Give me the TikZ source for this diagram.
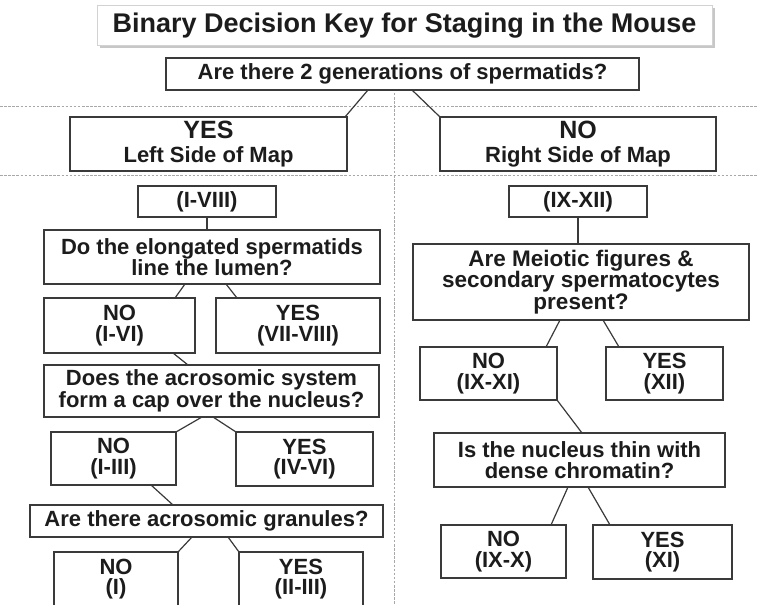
\documentclass[tikz,border=0pt]{standalone}
\usepackage{fontspec}
\setmainfont{Liberation Sans}
\usetikzlibrary{calc,shadows}
\definecolor{linec}{HTML}{3A3A3A}
\definecolor{textc}{HTML}{1C1C1C}
\definecolor{dashc}{HTML}{A8A8A8}
\begin{document}
\begin{tikzpicture}[x=1pt,y=-1pt,
  box/.style={draw=linec, line width=1.3pt, fill=white, inner sep=0pt, outer sep=0pt,
    text=textc, align=center, font=\bfseries\fontsize{22}{20.5}\selectfont},
  titlebox/.style={draw=gray!35, line width=0.8pt, fill=white, inner sep=0pt, outer sep=0pt,
    text=textc, font=\bfseries\fontsize{27}{30}\selectfont,
    drop shadow={shadow xshift=3pt, shadow yshift=-3pt, fill=gray!55, opacity=0.8}},
  conn/.style={draw=linec, line width=1.2pt},
  sep/.style={draw=dashc, line width=1pt, dash pattern=on 2.5pt off 1.6pt}]
\useasboundingbox (0,0) rectangle (759,604);
\clip (0,0) rectangle (759,604);
\fill[white] (0,0) rectangle (759,604);

% separators
\coordinate (h1a) at (0,107);  \coordinate (h1b) at (759,107);
\coordinate (h2a) at (0,175);  \coordinate (h2b) at (759,175);
\coordinate (v1a) at (394,93); \coordinate (v1b) at (394,604);
\draw[sep] (h1a) -- (h1b);
\draw[sep] (h2a) -- (h2b);
\draw[sep] (v1a) -- (v1b);

% title
\node[titlebox, minimum width=615pt, minimum height=40pt] (title) at (404.5,25.5) {Binary Decision Key for Staging in the Mouse};

% top level
\node[box, minimum width=473pt, minimum height=32pt] (q1) at (402.5,74) {Are there 2 generations of spermatids?};
\node[box, minimum width=277pt, minimum height=54pt] (yes1) at (208.5,144) {{\fontsize{25}{22}\selectfont YES}\\[4pt]Left Side of Map};
\node[box, minimum width=276pt, minimum height=54pt] (no1) at (578,144) {{\fontsize{25}{22}\selectfont NO}\\[4pt]Right Side of Map};

% left side
\node[box, minimum width=138pt, minimum height=31pt] (L0) at (207,201.5) {(I-VIII)};
\node[box, minimum width=336pt, minimum height=54pt] (q2) at (212,257) {Do the elongated spermatids\\line the lumen?};
\node[box, minimum width=151pt, minimum height=55pt] (no2) at (119.5,325.5) {NO\\(I-VI)};
\node[box, minimum width=164pt, minimum height=55pt] (yes2) at (298,325.5) {YES\\(VII-VIII)};
\node[box, minimum width=335pt, minimum height=52pt] (q3) at (211.5,391) {Does the acrosomic system\\form a cap over the nucleus?};
\node[box, minimum width=125pt, minimum height=53pt] (no3) at (113.5,458.5) {NO\\(I-III)};
\node[box, minimum width=137pt, minimum height=54pt] (yes3) at (304.5,459) {YES\\(IV-VI)};
\node[box, minimum width=353pt, minimum height=32pt] (q4) at (206.5,521) {Are there acrosomic granules?};
\node[box, minimum width=124pt, minimum height=54pt] (no4) at (116,579) {NO\\(I)};
\node[box, minimum width=124pt, minimum height=54pt] (yes4) at (301,579) {YES\\(II-III)};

% right side
\node[box, minimum width=138pt, minimum height=31pt] (R0) at (578,201.5) {(IX-XII)};
\node[box, minimum width=336pt, minimum height=76pt, font=\bfseries\fontsize{22.5}{21.5}\selectfont] (q5) at (581,282) {Are Meiotic figures \&\\secondary spermatocytes\\present?};
\node[box, minimum width=137pt, minimum height=53pt] (no5) at (488.5,373.5) {NO\\(IX-XI)};
\node[box, minimum width=117pt, minimum height=53pt] (yes5) at (664.5,373.5) {YES\\(XII)};
\node[box, minimum width=291pt, minimum height=54pt] (q6) at (579.5,460) {Is the nucleus thin with\\dense chromatin?};
\node[box, minimum width=125pt, minimum height=53pt] (no6) at (503.5,551.5) {NO\\(IX-X)};
\node[box, minimum width=139pt, minimum height=54pt] (yes6) at (662.5,552) {YES\\(XI)};

% connectors
\draw[conn] ([xshift=-34.5pt]q1.south) -- ([xshift=136.5pt]yes1.north);
\draw[conn] ([xshift=9.5pt]q1.south) -- (no1.north west);
\draw[conn] (L0.south) -- (L0.south |- q2.north);
\draw[conn] ([xshift=-27pt]q2.south) -- ([xshift=55.5pt]no2.north);
\draw[conn] ([xshift=14pt]q2.south) -- ([xshift=-61pt]yes2.north);
\draw[conn] ([xshift=53.5pt]no2.south) -- ([xshift=-23.5pt]q3.north);
\draw[conn] ([xshift=-9.5pt]q3.south) -- (no3.north east);
\draw[conn] ([xshift=1.5pt]q3.south) -- (yes3.north west);
\draw[conn] ([xshift=37.5pt]no3.south) -- ([xshift=-33.5pt]q4.north);
\draw[conn] ([xshift=-14.5pt]q4.south) -- (no4.north east);
\draw[conn] ([xshift=21.5pt]q4.south) -- (yes4.north west);
\draw[conn] (R0.south) -- (R0.south |- q5.north);
\draw[conn] ([xshift=-21pt]q5.south) -- ([xshift=57.5pt]no5.north);
\draw[conn] ([xshift=22pt]q5.south) -- ([xshift=-45.5pt]yes5.north);
\draw[conn] (no5.south east) -- ([xshift=2.5pt]q6.north);
\draw[conn] ([xshift=-11.5pt]q6.south) -- ([xshift=47.5pt]no6.north);
\draw[conn] ([xshift=8.5pt]q6.south) -- ([xshift=-52.5pt]yes6.north);
\end{tikzpicture}
\end{document}
